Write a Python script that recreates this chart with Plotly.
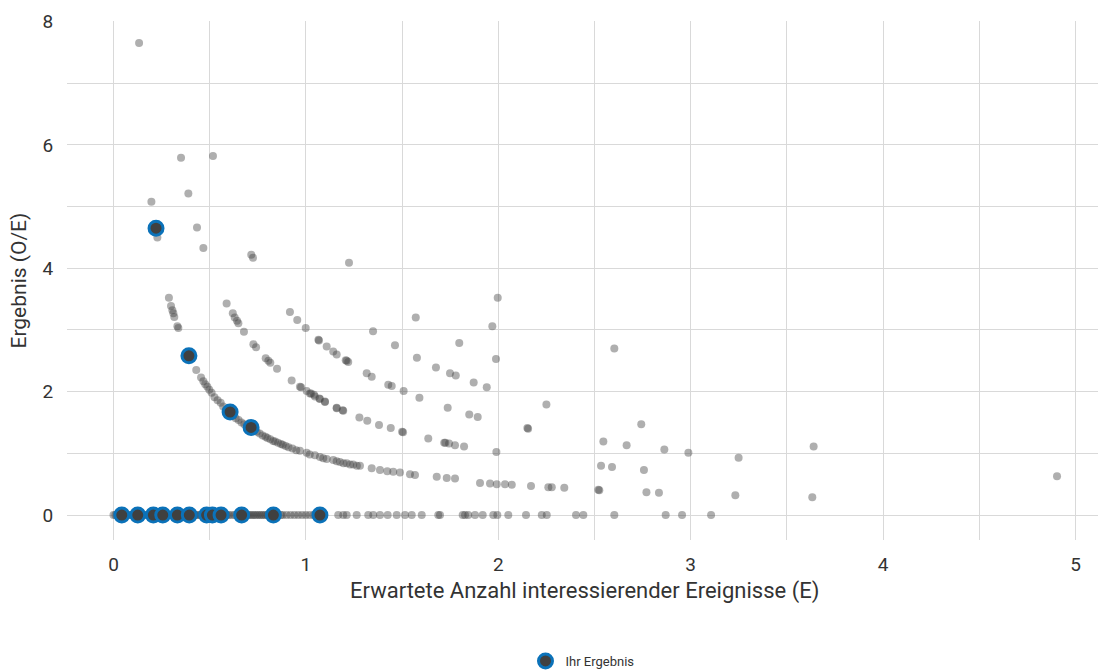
import plotly.graph_objects as go

# ---- Data ----
# Points with O = 0 (O/E = 0)
row0_e = [0.0, 0.01, 0.02, 0.03, 0.04, 0.05, 0.06, 0.07, 0.08, 0.09,
          0.10, 0.11, 0.126, 0.14, 0.15, 0.16, 0.17, 0.18, 0.19, 0.207,
          0.22, 0.23, 0.24, 0.256, 0.27, 0.28, 0.29, 0.30, 0.31, 0.32,
          0.332, 0.35, 0.36, 0.37, 0.38, 0.394, 0.41, 0.42, 0.43, 0.44,
          0.45, 0.46, 0.47, 0.484, 0.50, 0.514, 0.53, 0.545, 0.559, 0.575,
          0.59, 0.60, 0.615, 0.63, 0.645, 0.666, 0.68, 0.69, 0.70, 0.71,
          0.72, 0.73, 0.74, 0.75, 0.76, 0.77, 0.78, 0.79, 0.80, 0.831,
          0.85, 0.87, 0.88, 0.90, 0.92, 0.94, 0.96, 0.98, 1.0, 1.02,
          1.04, 1.073, 1.09, 1.168, 1.194, 1.212, 1.264, 1.324, 1.35, 1.385,
          1.425, 1.472, 1.515, 1.55, 1.602, 1.688, 1.697, 1.815, 1.827, 1.844,
          1.879, 1.919, 1.974, 1.995, 2.052, 2.144, 2.226, 2.252, 2.404, 2.442,
          2.603, 2.87, 2.955, 3.106]
row0_oe = [0, 0, 0, 0, 0, 0, 0, 0, 0, 0,
           0, 0, 0, 0, 0, 0, 0, 0, 0, 0,
           0, 0, 0, 0, 0, 0, 0, 0, 0, 0,
           0, 0, 0, 0, 0, 0, 0, 0, 0, 0,
           0, 0, 0, 0, 0, 0, 0, 0, 0, 0,
           0, 0, 0, 0, 0, 0, 0, 0, 0, 0,
           0, 0, 0, 0, 0, 0, 0, 0, 0, 0,
           0, 0, 0, 0, 0, 0, 0, 0, 0, 0,
           0, 0, 0, 0, 0, 0, 0, 0, 0, 0,
           0, 0, 0, 0, 0, 0, 0, 0, 0, 0,
           0, 0, 0, 0, 0, 0, 0, 0, 0, 0,
           0, 0, 0, 0]

# Points with O = 1
row1_e = [0.133, 0.197, 0.221, 0.228, 0.288, 0.299, 0.306, 0.311, 0.316, 0.332, 0.337, 0.392,
          0.43, 0.455, 0.467, 0.477, 0.488, 0.498, 0.51, 0.525, 0.541, 0.557, 0.57, 0.585,
          0.606, 0.62, 0.635, 0.65, 0.665, 0.68, 0.695, 0.705, 0.715, 0.73, 0.744, 0.76, 0.775,
          0.79, 0.80, 0.815, 0.83, 0.84, 0.855, 0.87, 0.88, 0.895, 0.91, 0.93, 0.95, 0.969,
          1.004, 1.02, 1.047, 1.073, 1.09, 1.108, 1.142, 1.16, 1.177, 1.195, 1.212, 1.23,
          1.246, 1.265, 1.281, 1.342, 1.385, 1.423, 1.454, 1.489, 1.541, 1.567, 1.68, 1.732,
          1.775, 1.905, 1.957, 1.992, 2.035, 2.07, 2.17, 2.26, 2.278, 2.343, 2.52, 2.525,
          2.77, 2.835, 3.232, 3.632]
row1_oe = [7.65, 5.08, 4.65, 4.50, 3.52, 3.39, 3.32, 3.27, 3.21, 3.06, 3.03, 2.58,
           2.35, 2.23, 2.17, 2.12, 2.08, 2.03, 1.98, 1.91, 1.86, 1.82, 1.76, 1.71,
           1.67, 1.61, 1.57, 1.54, 1.50, 1.47, 1.44, 1.42, 1.42, 1.37, 1.35, 1.32, 1.29,
           1.27, 1.25, 1.23, 1.20, 1.19, 1.17, 1.15, 1.14, 1.12, 1.10, 1.08, 1.05, 1.04,
           1.01, 0.98, 0.97, 0.94, 0.92, 0.91, 0.89, 0.87, 0.86, 0.84, 0.84, 0.82,
           0.82, 0.80, 0.80, 0.76, 0.73, 0.71, 0.70, 0.69, 0.66, 0.65, 0.62, 0.60,
           0.59, 0.52, 0.51, 0.50, 0.50, 0.49, 0.47, 0.45, 0.45, 0.44, 0.41, 0.40,
           0.37, 0.36, 0.32, 0.29]

# Points with O = 2
row2_e = [0.351, 0.389, 0.434, 0.467, 0.588, 0.62, 0.63, 0.642, 0.649, 0.678, 0.727, 0.741,
          0.791, 0.805, 0.815, 0.85, 0.926, 0.969, 0.975, 1.004, 1.021, 1.027, 1.042, 1.047,
          1.07, 1.073, 1.099, 1.099, 1.16, 1.16, 1.191, 1.194, 1.278, 1.319, 1.38, 1.441, 1.5,
          1.505, 1.636, 1.719, 1.725, 1.744, 1.775, 1.822, 1.99, 2.534, 2.591, 2.757]
row2_oe = [5.79, 5.21, 4.66, 4.33, 3.43, 3.27, 3.20, 3.15, 3.11, 2.97, 2.77, 2.72,
           2.54, 2.50, 2.47, 2.37, 2.18, 2.08, 2.07, 2.01, 1.97, 1.97, 1.95, 1.92,
           1.89, 1.88, 1.83, 1.84, 1.74, 1.73, 1.70, 1.69, 1.58, 1.53, 1.46, 1.41, 1.35,
           1.34, 1.24, 1.17, 1.17, 1.16, 1.13, 1.11, 1.02, 0.80, 0.78, 0.73]

# Points with O = 3
row3_e = [0.517, 0.716, 0.725, 0.917, 0.955, 0.999, 1.065, 1.068, 1.108, 1.142, 1.16, 1.207,
          1.212, 1.22, 1.316, 1.342, 1.428, 1.446, 1.508, 1.59, 1.737, 1.849, 1.893, 2.151,
          2.155, 2.546, 2.667, 2.863, 2.988, 3.249, 4.904]
row3_oe = [5.82, 4.22, 4.17, 3.29, 3.16, 3.03, 2.84, 2.83, 2.73, 2.65, 2.60, 2.51,
           2.50, 2.48, 2.30, 2.24, 2.11, 2.09, 2.01, 1.90, 1.74, 1.63, 1.59, 1.41,
           1.40, 1.19, 1.13, 1.06, 1.01, 0.93, 0.63]

# Points with O >= 4
rowx_e = [1.224, 1.571, 1.349, 1.463, 1.577, 1.676, 1.749, 1.779, 1.872, 1.94, 2.25, 2.743,
          3.639, 1.797, 1.988, 1.969, 1.997, 2.603]
rowx_oe = [4.09, 3.20, 2.98, 2.75, 2.55, 2.39, 2.30, 2.26, 2.15, 2.07, 1.79, 1.47,
           1.11, 2.79, 2.53, 3.06, 3.52, 2.70]

# "Ihr Ergebnis" (highlighted)
own_e = [0.221, 0.392, 0.606, 0.715, 0.043, 0.126, 0.207, 0.256, 0.332, 0.394, 0.484, 0.514,
         0.559, 0.666, 0.831, 1.073]
own_oe = [4.65, 2.58, 1.67, 1.42, 0, 0, 0, 0, 0, 0, 0, 0, 0, 0, 0, 0]

legend_label = "Ihr Ergebnis"
x_title = "Erwartete Anzahl interessierender Ereignisse (E)"
y_title = "Ergebnis (O/E)"

# ---- Figure ----
FONT = "Roboto"
TXT = "#333333"
GRID = "#d9d9d9"
GRAY_MARK = dict(size=8, color="rgba(64,64,64,0.42)", line=dict(width=0))

fig = go.Figure()
for xs, ys in [(row0_e, row0_oe), (row1_e, row1_oe), (row2_e, row2_oe),
               (row3_e, row3_oe), (rowx_e, rowx_oe)]:
    fig.add_trace(go.Scatter(x=xs, y=ys, mode="markers", showlegend=False,
                             hoverinfo="skip", marker=GRAY_MARK))
fig.add_trace(go.Scatter(
    x=own_e, y=own_oe, mode="markers", name=legend_label,
    marker=dict(size=14, color="#404040", line=dict(width=3, color="#0b72b9")),
))

fig.update_layout(
    width=1098, height=671,
    margin=dict(l=67, r=0, t=21, b=131, autoexpand=False),
    paper_bgcolor="white", plot_bgcolor="white",
    font=dict(family=FONT, color=TXT, size=19),
    showlegend=True,
    legend=dict(orientation="h", x=0.5, xanchor="center",
                yref="container", y=0.0149, yanchor="middle",
                font=dict(size=13, color=TXT, family=FONT), itemsizing="trace"),
    xaxis=dict(range=[-0.2417, 5.117], dtick=1, tick0=0, showgrid=True, gridcolor=GRID,
               gridwidth=1.3, zeroline=False, showline=False, automargin=False,
               ticks="outside", ticklen=7, tickcolor="rgba(0,0,0,0)",
               tickfont=dict(size=19, color=TXT),
               minor=dict(dtick=0.5, tick0=0, showgrid=True, gridcolor=GRID, gridwidth=1)),
    yaxis=dict(range=[-0.405, 8.008], dtick=2, tick0=0, showgrid=True, gridcolor=GRID,
               gridwidth=1.3, zeroline=False, showline=False, automargin=False,
               ticks="outside", ticklen=9, tickcolor="rgba(0,0,0,0)",
               tickfont=dict(size=19, color=TXT),
               minor=dict(dtick=1, tick0=0, showgrid=True, gridcolor=GRID, gridwidth=1)),
    annotations=[
        dict(text=x_title, xref="paper", yref="paper", x=0.502, y=-0.098,
             xanchor="center", yanchor="middle", showarrow=False,
             font=dict(size=22, color=TXT, family=FONT)),
        dict(text=y_title, xref="paper", yref="paper", x=-0.0475, y=0.5,
             xanchor="center", yanchor="middle", showarrow=False, textangle=-90,
             font=dict(size=21, color=TXT, family=FONT)),
    ],
)

fig.write_html("out.html")
